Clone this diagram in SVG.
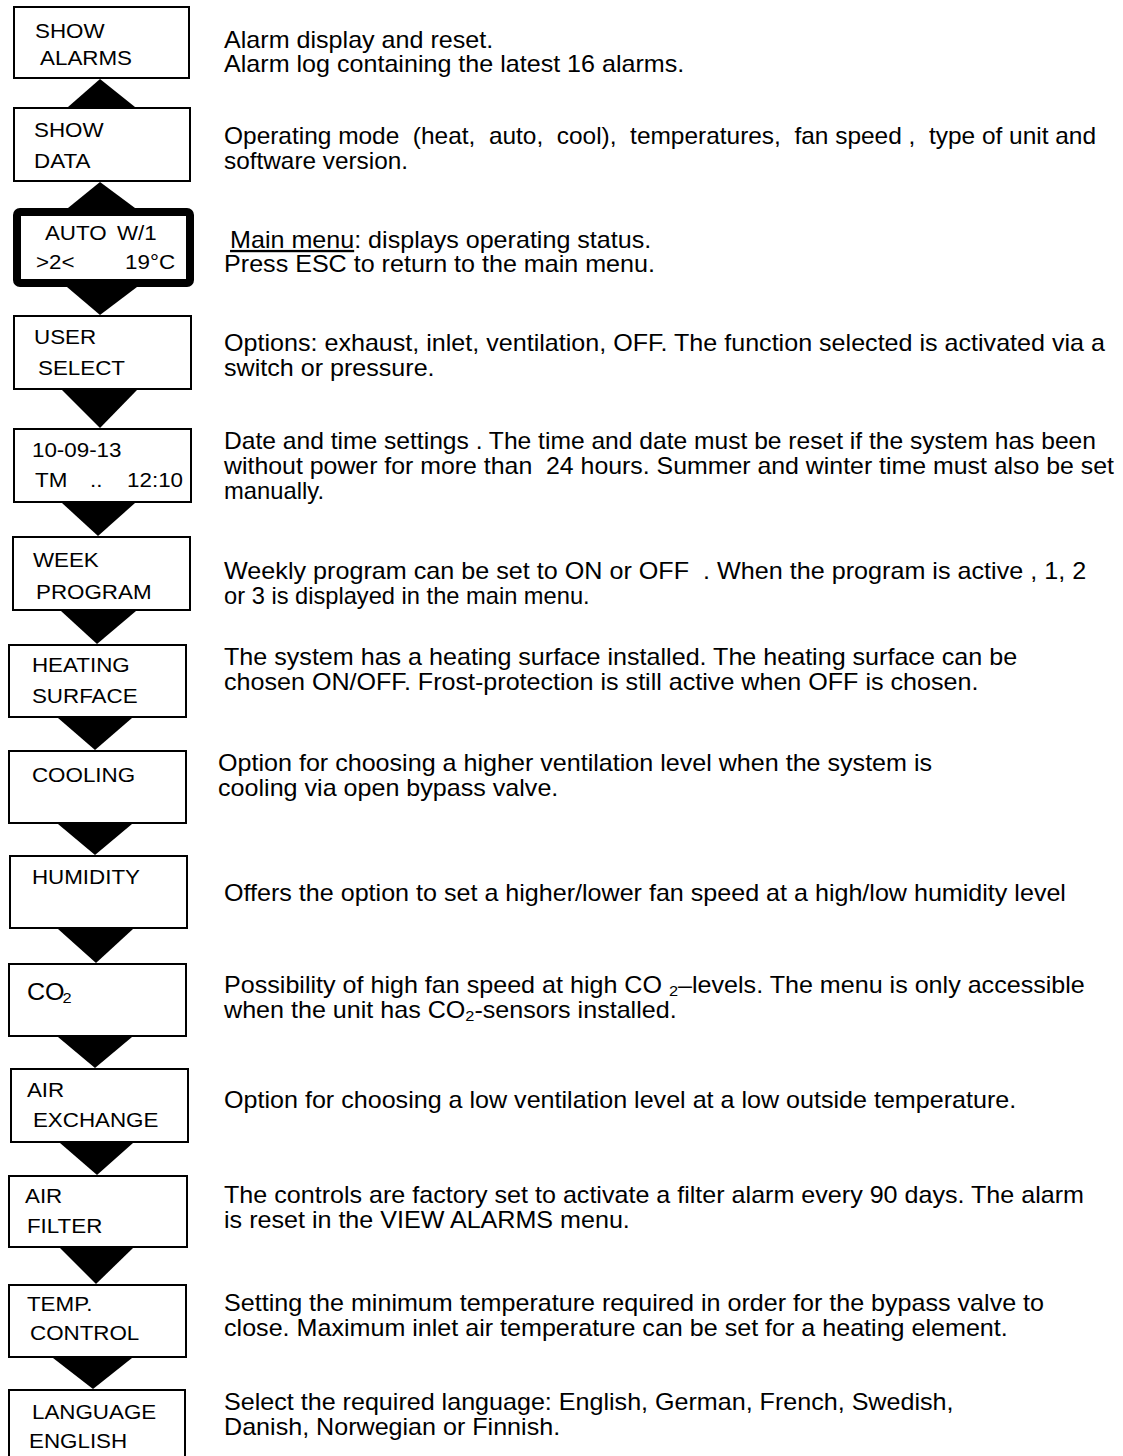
<svg xmlns="http://www.w3.org/2000/svg" width="1123" height="1456" viewBox="0 0 1123 1456">
  <style>
    .box { fill: #fff; stroke: #000; stroke-width: 2; }
    .lcd { fill: #fff; stroke: #000; stroke-width: 8; }
    .arrow { fill: #000; stroke: none; }
    text { font-family: "Liberation Sans", Arial, sans-serif; fill: #000; }
    .lbl { font-size: 20.5px; }
    .desc { font-size: 23px; }
    .sub { font-size: 15px; }
  </style>
  <rect width="1123" height="1456" fill="#fff"/>

  <!-- connectors: solid triangles between menu boxes -->
  <g id="connectors">
    <polygon class="arrow" points="68,107 135,107 100,79"/>
    <polygon class="arrow" points="68,208 135,208 100,182"/>
    <polygon class="arrow" points="67,287 137,287 100,315"/>
    <polygon class="arrow" points="62,390 137,390 100,428"/>
    <polygon class="arrow" points="62,503 135,503 98,536"/>
    <polygon class="arrow" points="61,611 136,611 97,644"/>
    <polygon class="arrow" points="58,718 132,718 95,750"/>
    <polygon class="arrow" points="58,824 132,824 95,855"/>
    <polygon class="arrow" points="58,929 133,929 96,963"/>
    <polygon class="arrow" points="58,1037 132,1037 95,1068"/>
    <polygon class="arrow" points="60,1143 133,1143 97,1175"/>
    <polygon class="arrow" points="60,1248 133,1248 96,1284"/>
    <polygon class="arrow" points="53,1358 132,1358 93,1389"/>
  </g>

  <!-- menu boxes; text is set in a horizontally stretched frame -->
  <g id="show-alarms">
    <rect class="box" x="14" y="7" width="175" height="71"/>
    <g transform="scale(1.0913 1)">
      <text class="lbl" x="32.1" y="38">SHOW</text>
      <text class="lbl" x="36.7" y="65">ALARMS</text>
    </g>
  </g>
  <g id="show-data">
    <rect class="box" x="14" y="108" width="176" height="73"/>
    <g transform="scale(1.0913 1)">
      <text class="lbl" x="31.2" y="137">SHOW</text>
      <text class="lbl" x="31.2" y="168">DATA</text>
    </g>
  </g>
  <g id="main-menu">
    <rect class="lcd" x="17" y="212" width="173" height="71" rx="3"/>
    <g transform="scale(1.0913 1)">
      <text class="lbl" x="41.2" y="240">AUTO</text>
      <text class="lbl" x="107.2" y="240">W/1</text>
      <text class="lbl" x="33" y="269">&gt;2&lt;</text>
      <text class="lbl" x="160.4" y="269" text-anchor="end">19°C</text>
    </g>
  </g>
  <g id="user-select">
    <rect class="box" x="14" y="316" width="177" height="73"/>
    <g transform="scale(1.0913 1)">
      <text class="lbl" x="31.2" y="344">USER</text>
      <text class="lbl" x="34.8" y="375">SELECT</text>
    </g>
  </g>
  <g id="date-time">
    <rect class="box" x="14" y="429" width="177" height="73"/>
    <g transform="scale(1.0913 1)">
      <text class="lbl" x="29.3" y="457">10-09-13</text>
      <text class="lbl" x="32.1" y="487">TM</text>
      <text class="lbl" x="82.5" y="487">..</text>
      <text class="lbl" x="167.7" y="487" text-anchor="end">12:10</text>
    </g>
  </g>
  <g id="week-program">
    <rect class="box" x="13" y="537" width="177" height="73"/>
    <g transform="scale(1.0913 1)">
      <text class="lbl" x="30.2" y="567">WEEK</text>
      <text class="lbl" x="33" y="599">PROGRAM</text>
    </g>
  </g>
  <g id="heating-surface">
    <rect class="box" x="9" y="645" width="177" height="72"/>
    <g transform="scale(1.0913 1)">
      <text class="lbl" x="29.3" y="672">HEATING</text>
      <text class="lbl" x="29.3" y="703">SURFACE</text>
    </g>
  </g>
  <g id="cooling">
    <rect class="box" x="9" y="751" width="177" height="72"/>
    <g transform="scale(1.0913 1)">
      <text class="lbl" x="29.3" y="782">COOLING</text>
    </g>
  </g>
  <g id="humidity">
    <rect class="box" x="10" y="856" width="177" height="72"/>
    <g transform="scale(1.0913 1)">
      <text class="lbl" x="29.3" y="884">HUMIDITY</text>
    </g>
  </g>
  <g id="co2">
    <rect class="box" x="9" y="964" width="177" height="72"/>
    <g transform="scale(1.0913 1)">
      <text x="24.7" y="1000" font-size="23">CO<tspan class="sub" dx="-2" dy="3">2</tspan></text>
    </g>
  </g>
  <g id="air-exchange">
    <rect class="box" x="11" y="1069" width="177" height="73"/>
    <g transform="scale(1.0913 1)">
      <text class="lbl" x="24.7" y="1097">AIR</text>
      <text class="lbl" x="30.2" y="1127">EXCHANGE</text>
    </g>
  </g>
  <g id="air-filter">
    <rect class="box" x="9" y="1176" width="178" height="71"/>
    <g transform="scale(1.0913 1)">
      <text class="lbl" x="22.9" y="1203">AIR</text>
      <text class="lbl" x="24.7" y="1233">FILTER</text>
    </g>
  </g>
  <g id="temp-control">
    <rect class="box" x="9" y="1285" width="177" height="72"/>
    <g transform="scale(1.0913 1)">
      <text class="lbl" x="24.7" y="1311">TEMP.</text>
      <text class="lbl" x="27.5" y="1340">CONTROL</text>
    </g>
  </g>
  <g id="language">
    <rect class="box" x="9" y="1390" width="176" height="72"/>
    <g transform="scale(1.0913 1)">
      <text class="lbl" x="29.3" y="1419">LANGUAGE</text>
      <text class="lbl" x="26.6" y="1448">ENGLISH</text>
    </g>
  </g>

  <!-- descriptions to the right of each menu -->
  <g id="descriptions" class="desc" transform="scale(1.0913 1)">
    <text x="205.3" y="48">Alarm display and reset.</text>
    <text x="205.3" y="72">Alarm log containing the latest 16 alarms.</text>

    <text x="205.3" y="144" textLength="799" lengthAdjust="spacingAndGlyphs" xml:space="preserve">Operating mode  (heat,  auto,  cool),  temperatures,  fan speed ,  type of unit and</text>
    <text x="205.3" y="169" textLength="168.6" lengthAdjust="spacingAndGlyphs">software version.</text>

    <text x="210.8" y="248"><tspan text-decoration="underline">Main menu</tspan>: displays operating status.</text>
    <text x="205.3" y="272">Press ESC to return to the main menu.</text>

    <text x="205.3" y="351">Options: exhaust, inlet, ventilation, OFF. The function selected is activated via a</text>
    <text x="205.3" y="376">switch or pressure.</text>

    <text x="205.3" y="449" textLength="799" lengthAdjust="spacingAndGlyphs">Date and time settings . The time and date must be reset if the system has been</text>
    <text x="205.3" y="474" textLength="815.5" lengthAdjust="spacingAndGlyphs" xml:space="preserve">without power for more than  24 hours. Summer and winter time must also be set</text>
    <text x="205.3" y="499" textLength="91.6" lengthAdjust="spacingAndGlyphs">manually.</text>

    <text x="205.3" y="579" textLength="790" lengthAdjust="spacingAndGlyphs" xml:space="preserve">Weekly program can be set to ON or OFF  . When the program is active , 1, 2</text>
    <text x="205.3" y="604" textLength="335" lengthAdjust="spacingAndGlyphs">or 3 is displayed in the main menu.</text>

    <text x="205.3" y="665">The system has a heating surface installed. The heating surface can be</text>
    <text x="205.3" y="690">chosen ON/OFF. Frost-protection is still active when OFF is chosen.</text>

    <text x="199.8" y="771">Option for choosing a higher ventilation level when the system is</text>
    <text x="199.8" y="796">cooling via open bypass valve.</text>

    <text x="205.3" y="901">Offers the option to set a higher/lower fan speed at a high/low humidity level</text>

    <text x="205.3" y="993" xml:space="preserve">Possibility of high fan speed at high CO <tspan class="sub" dy="3">2</tspan><tspan dy="-3">–levels. The menu is only accessible</tspan></text>
    <text x="205.3" y="1018">when the unit has CO<tspan class="sub" dy="3">2</tspan><tspan dy="-3">-sensors installed.</tspan></text>

    <text x="205.3" y="1108">Option for choosing a low ventilation level at a low outside temperature.</text>

    <text x="205.3" y="1203">The controls are factory set to activate a filter alarm every 90 days. The alarm</text>
    <text x="205.3" y="1228">is reset in the VIEW ALARMS menu.</text>

    <text x="205.3" y="1311">Setting the minimum temperature required in order for the bypass valve to</text>
    <text x="205.3" y="1336">close. Maximum inlet air temperature can be set for a heating element.</text>

    <text x="205.3" y="1410">Select the required language: English, German, French, Swedish,</text>
    <text x="205.3" y="1435">Danish, Norwegian or Finnish.</text>
  </g>
</svg>
